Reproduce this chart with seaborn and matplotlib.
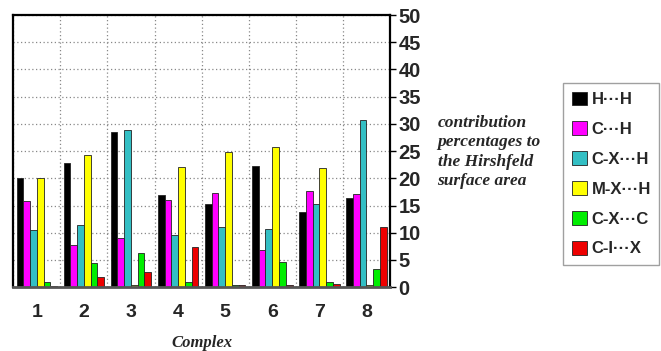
import matplotlib
matplotlib.use("Agg")
import matplotlib.pyplot as plt
import seaborn as sns
import pandas as pd
import numpy as np

complexes = ["1", "2", "3", "4", "5", "6", "7", "8"]
interactions = ["H\u00b7\u00b7\u00b7H", "C\u00b7\u00b7\u00b7H", "C-X\u00b7\u00b7\u00b7H",
                "M-X\u00b7\u00b7\u00b7H", "C-X\u00b7\u00b7\u00b7C", "C-I\u00b7\u00b7\u00b7X"]
HH = [20.0, 22.9, 28.6, 17.0, 15.2, 22.2, 13.8, 16.3]
CH = [15.9, 7.8, 9.1, 16.1, 17.3, 6.9, 17.6, 17.1]
CXH = [10.5, 11.4, 28.9, 9.6, 11.1, 10.6, 15.3, 30.7]
MXH = [20.0, 24.3, 0.3, 22.1, 24.8, 25.8, 21.9, 0.3]
CXC = [1.0, 4.5, 6.2, 0.9, 0.4, 4.6, 1.0, 3.3]
CIX = [0.2, 1.9, 2.8, 7.3, 0.3, 0.3, 0.5, 11.1]
colors = ["#000000", "#ff00ff", "#33bfc4", "#ffff00", "#00ee00", "#ee0000"]

series = [HH, CH, CXH, MXH, CXC, CIX]
rows = []
for name, vals in zip(interactions, series):
    for c, v in zip(complexes, vals):
        rows.append({"Complex": c, "value": v, "Interaction": name})
df = pd.DataFrame(rows)

sns.set_style("white")
plt.rcParams['font.family'] = ['Liberation Sans', 'DejaVu Sans']

fig = plt.figure(figsize=(6.61, 3.51), dpi=100)
ax = fig.add_axes([0.02, 0.182, 0.57, 0.775])

sns.barplot(data=df, x="Complex", y="value", hue="Interaction",
            hue_order=interactions, order=complexes, palette=colors,
            width=0.86, edgecolor="#222222", linewidth=0.6, ax=ax,
            saturation=1)

handles, labels = ax.get_legend_handles_labels()
if ax.get_legend() is not None:
    ax.get_legend().remove()

ax.set_ylim(0, 50)
ax.set_xlim(-0.5, 7.5)
ax.yaxis.tick_right()
ax.set_yticks(np.arange(0, 51, 5))
ax.set_yticklabels([str(v) for v in range(0, 51, 5)], fontsize=14.5, fontweight="bold")
ax.tick_params(axis="y", which="major", direction="out", length=4, width=1, color="black", pad=2, right=True, left=False)
ax.set_xticks(range(8))
ax.set_xticklabels(complexes, fontsize=14, fontweight="bold")
ax.tick_params(axis="x", which="major", length=0, pad=12)
ax.set_xticks(np.arange(-0.5, 8, 1), minor=True)
ax.tick_params(axis="x", which="minor", length=4, color="#666666", direction="out")

ax.grid(False)
ax.yaxis.grid(True, linestyle=(0, (1, 2)), color="#888888", linewidth=0.9)
ax.xaxis.grid(True, which="minor", linestyle=(0, (1, 2)), color="#888888", linewidth=0.9)
ax.set_axisbelow(True)

for s in ["left", "top", "right"]:
    ax.spines[s].set_visible(True)
    ax.spines[s].set_color("black")
    ax.spines[s].set_linewidth(1.6)
ax.spines["bottom"].set_color("#555555")
ax.spines["bottom"].set_linewidth(2)

ax.set_xlabel("Complex", fontsize=12, fontweight="bold", style="italic",
              family=["Liberation Serif", "DejaVu Serif"], labelpad=10)
ax.set_ylabel("")

fig.text(0.662, 0.567, "contribution\npercentages to\nthe Hirshfeld\nsurface area",
         fontsize=12.5, fontweight="bold", style="italic",
         family=["Liberation Serif", "DejaVu Serif"], ha="left", va="center",
         linespacing=1.3)

leg = fig.legend(handles, labels, loc="upper left", bbox_to_anchor=(0.852, 0.763),
                 frameon=True, fancybox=False, edgecolor="#888888",
                 prop={"size": 12, "weight": "bold"}, handlelength=0.9,
                 handleheight=0.9, labelspacing=0.85, handletextpad=0.3,
                 borderpad=0.5, borderaxespad=0)
leg.get_frame().set_linewidth(1)

fig.savefig("out.png", dpi=100)
